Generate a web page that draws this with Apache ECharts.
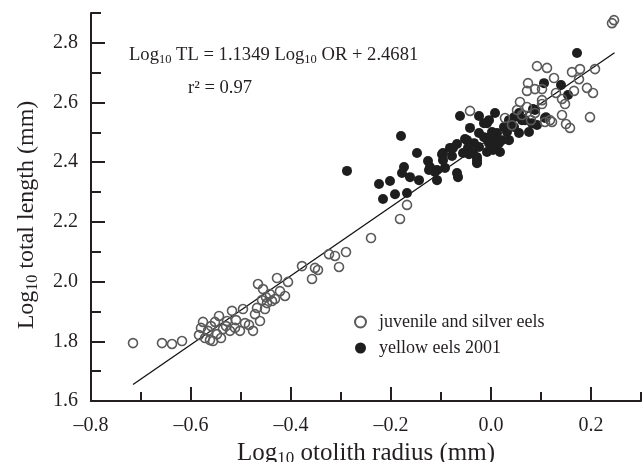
<!DOCTYPE html>
<html>
<head>
<meta charset="utf-8">
<script src="https://cdn.jsdelivr.net/npm/echarts@6/dist/echarts.min.js"></script>
<style>html,body{margin:0;padding:0;background:#fff}#c{width:644px;height:462px}</style>
</head>
<body>
<div id="c"></div>
<script>
var juvenile = [
[-0.716,1.794],[-0.658,1.794],[-0.638,1.791],[-0.618,1.801],[-0.584,1.821],[-0.580,1.845],
[-0.572,1.811],[-0.566,1.835],[-0.560,1.851],[-0.556,1.801],[-0.548,1.824],[-0.544,1.885],
[-0.540,1.811],[-0.536,1.841],[-0.528,1.868],[-0.522,1.835],[-0.518,1.902],[-0.512,1.845],
[-0.502,1.835],[-0.496,1.908],[-0.492,1.861],[-0.476,1.835],[-0.472,1.891],[-0.468,1.912],
[-0.466,1.992],[-0.462,1.868],[-0.456,1.975],[-0.452,1.908],[-0.448,1.928],[-0.442,1.958],
[-0.438,1.935],[-0.432,1.942],[-0.428,2.012],[-0.422,1.968],[-0.412,1.952],[-0.406,1.999],
[-0.378,2.052],[-0.358,2.009],[-0.352,2.046],[-0.346,2.039],[-0.324,2.092],[-0.312,2.086],
[-0.304,2.049],[-0.290,2.099],[-0.240,2.146],[-0.182,2.210],[-0.168,2.257],[-0.042,2.572],
[-0.576,1.865],[-0.552,1.865],[-0.530,1.851],[-0.510,1.871],[-0.484,1.855],[-0.458,1.938],
[-0.450,1.948],[-0.562,1.804],
[0.242,2.866],[0.246,2.876],[0.092,2.722],[0.112,2.716],[0.162,2.702],[0.178,2.712],
[0.208,2.712],[0.126,2.682],[0.176,2.678],[0.074,2.665],[0.088,2.645],[0.102,2.645],
[0.072,2.639],[0.130,2.632],[0.166,2.639],[0.192,2.649],[0.204,2.632],[0.058,2.602],
[0.102,2.608],[0.142,2.612],[0.148,2.595],[0.072,2.585],[0.102,2.595],[0.062,2.558],
[0.088,2.565],[0.122,2.535],[0.108,2.535],[0.142,2.558],[0.150,2.528],[0.158,2.515],
[0.198,2.551],[0.080,2.541],[0.052,2.575],[0.118,2.541],[0.028,2.548],[0.042,2.524]
];
var yellow = [
[-0.288,2.371],[-0.180,2.488],[-0.148,2.431],[-0.062,2.555],[0.008,2.565],[-0.224,2.327],
[-0.202,2.337],[-0.216,2.277],[-0.192,2.293],[-0.174,2.384],[-0.178,2.364],[-0.168,2.297],
[-0.162,2.350],[-0.144,2.340],[-0.126,2.404],[-0.124,2.374],[-0.108,2.340],[-0.108,2.374],
[-0.098,2.427],[-0.082,2.448],[-0.078,2.421],[-0.068,2.461],[-0.068,2.364],[-0.066,2.350],
[-0.052,2.478],[-0.044,2.427],[-0.028,2.417],[-0.028,2.397],[-0.024,2.498],[-0.014,2.531],
[-0.004,2.541],[0.002,2.501],[0.008,2.451],[0.018,2.434],[0.022,2.474],[0.032,2.501],
[0.036,2.541],[0.046,2.518],[0.056,2.565],[0.062,2.541],[0.076,2.501],[0.082,2.531],
[0.092,2.525],[0.108,2.548],[0.088,2.575],[0.106,2.665],[0.140,2.659],[0.154,2.625],
[0.172,2.766],[-0.014,2.484],[-0.004,2.464],[0.016,2.464],[-0.024,2.451],[0.036,2.474],
[0.056,2.498],[0.068,2.541],[-0.034,2.464],[0.006,2.474],[0.026,2.518],[0.046,2.551],
[-0.024,2.555],[-0.042,2.515],[-0.008,2.531],[-0.002,2.484],[0.012,2.498],[-0.048,2.474],
[-0.046,2.448],[-0.076,2.448],[-0.096,2.431],[-0.056,2.431],[-0.036,2.431],[-0.028,2.407],
[-0.008,2.434],[0.004,2.441],[-0.092,2.381],[-0.112,2.367],[-0.122,2.384],[-0.096,2.407],
[0.110,2.551],[0.084,2.578]
];
var fitLine = [[-0.716,1.655],[0.247,2.767]];
var xMajorTicks = [-0.8,-0.6,-0.4,-0.2,0.0,0.2];
var xMinorTicks = [-0.7,-0.5,-0.3,-0.1,0.1,0.3];
var yMajorTicks = [1.6,1.8,2.0,2.2,2.4,2.6,2.8];
var yMinorTicks = [1.7,1.9,2.1,2.3,2.5,2.7,2.9];

var FONT = 'Liberation Serif';
var INK = '#231f20';
var chart = echarts.init(document.getElementById('c'), null, {renderer:'canvas'});
function fmtX(v){ var s = Math.abs(v).toFixed(1); return (v < -1e-9 ? '\u2013' : '') + s; }
chart.setOption({
  animation:false,
  backgroundColor:'#fff',
  grid:{left:91,right:3,top:13,bottom:61,containLabel:false,outerBoundsMode:'none'},
  legend:{
    data:['juvenile and silver eels','yellow eels 2001'],
    orient:'vertical', left:349, top:308, itemWidth:11, itemHeight:11, itemGap:8,
    icon:'circle',
    textStyle:{fontFamily:FONT,fontSize:18,color:INK,padding:[0,0,0,8]}
  },
  xAxis:[{
    type:'value', min:-0.8, max:0.3,
    name:'{a|Log}{s|10}{a| otolith radius (mm)}', nameLocation:'middle', nameGap:35,
    nameTextStyle:{rich:{
      a:{fontFamily:FONT,fontSize:25,color:INK,lineHeight:28},
      s:{fontFamily:FONT,fontSize:17,color:INK,verticalAlign:'bottom'}
    }},
    axisLine:{onZero:false,lineStyle:{color:INK,width:2}},
    axisTick:{inside:true,length:14,lineStyle:{color:INK,width:2},customValues:xMajorTicks},
    axisLabel:{customValues:xMajorTicks,formatter:fmtX,fontFamily:FONT,fontSize:20,color:INK,margin:15},
    splitLine:{show:false}
  },{
    type:'value', min:-0.8, max:0.3, position:'bottom',
    axisLine:{show:false,onZero:false},
    axisTick:{inside:true,length:9,lineStyle:{color:INK,width:2},customValues:xMinorTicks},
    axisLabel:{show:false}, splitLine:{show:false}
  }],
  yAxis:[{
    type:'value', min:1.6, max:2.9,
    axisLine:{onZero:false,lineStyle:{color:INK,width:2}},
    axisTick:{inside:true,length:14,lineStyle:{color:INK,width:2},customValues:yMajorTicks},
    axisLabel:{customValues:yMajorTicks,formatter:function(v){return v.toFixed(1);},fontFamily:FONT,fontSize:20,color:INK,margin:13},
    splitLine:{show:false}
  },{
    type:'value', min:1.6, max:2.9, position:'left', offset:0,
    axisLine:{show:false,onZero:false},
    axisTick:{inside:true,length:10,lineStyle:{color:INK,width:2},customValues:yMinorTicks},
    axisLabel:{show:false}, splitLine:{show:false}
  }],
  graphic:[{
    type:'text', x:27, y:215, rotation:Math.PI/2,
    style:{
      text:'{a|Log}{s|10}{a| total length (mm)}',
      align:'center', verticalAlign:'middle',
      rich:{
        a:{fontFamily:FONT,fontSize:24,fill:INK,lineHeight:28},
        s:{fontFamily:FONT,fontSize:16,fill:INK,verticalAlign:'bottom'}
      }
    }
  },{
    type:'text', left:129, top:46,
    style:{
      text:'{a|Log}{s|10}{a| TL = 1.1349 Log}{s|10}{a| OR + 2.4681}',
      rich:{
        a:{fontFamily:FONT,fontSize:18.6,fill:INK,lineHeight:22},
        s:{fontFamily:FONT,fontSize:12.5,fill:INK,verticalAlign:'bottom'}
      }
    }
  },{
    type:'text', left:188, top:79,
    style:{text:'r\u00b2 = 0.97', fontFamily:FONT, fontSize:18.6, fill:INK}
  }],
  series:[{
    type:'line', name:'fit', data:fitLine, showSymbol:false, symbol:'none',
    lineStyle:{color:'#111',width:1.3}, z:1, silent:true
  },{
    type:'scatter', name:'yellow eels 2001', data:yellow, symbol:'circle', symbolSize:10,
    itemStyle:{color:'#1e1e1e',opacity:1}, z:2
  },{
    type:'scatter', name:'juvenile and silver eels', data:juvenile, symbol:'circle', symbolSize:9,
    itemStyle:{color:'rgba(0,0,0,0)',borderColor:'#5a5a5a',borderWidth:1.6,opacity:1}, z:3
  }]
});
</script>
</body>
</html>
